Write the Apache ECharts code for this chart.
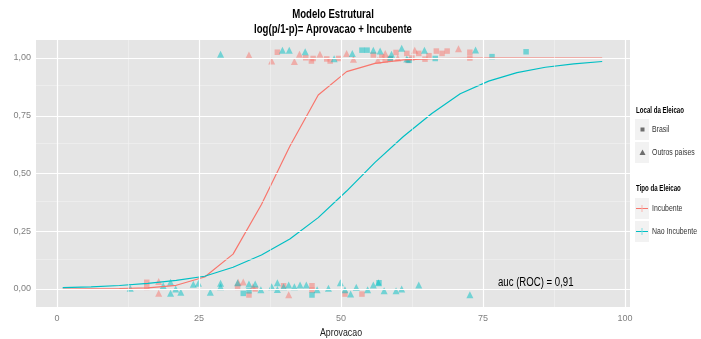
<!DOCTYPE html>
<html><head><meta charset="utf-8">
<script src="https://cdn.jsdelivr.net/npm/echarts@6/dist/echarts.min.js"></script>
<style>html,body{margin:0;padding:0;background:#fff}#c{width:701px;height:339px}</style>
</head><body><div id="c"></div>
<script>
// Predicted curves (evaluated at these approval values)
const curveX = [1,6,11,16,21,26,31,36,41,46,51,56,61,66,71,76,81,86,91,96];
const incubente = [0.000,0.001,0.002,0.005,0.016,0.052,0.151,0.366,0.618,0.840,0.941,0.977,0.992,0.997,0.999,1.000,1.000,1.000,1.000,1.000];
const naoIncubente = [0.006,0.009,0.015,0.024,0.037,0.055,0.094,0.147,0.216,0.309,0.424,0.548,0.660,0.760,0.845,0.900,0.937,0.960,0.975,0.985];

// Observed (jittered) points: [aprovacao, vitoria]
const brasilIncubente = [[38.8,1.025],[43.8,1.001],[44.8,0.987],[45.1,0.998],[47.5,0.996],[48.1,0.987],[49.6,0.998],[55.7,1.013],[57.2,1.005],[57.8,0.992],[58.7,0.998],[59.7,1.024],[61.6,1.02],[61.8,0.99],[62.5,1.0],[63.7,1.02],[64.8,0.995],[65.5,1.01],[66.8,1.03],[67.8,1.02],[68.7,1.03],[72.7,1.025],[72.7,1.0],
  [15.8,0.029],[15.8,0.007],[31.8,0.007],[33.8,-0.026],[34.9,0.0],[39.9,0.014],[44.9,0.014],[44.9,-0.005],[50.7,-0.022],[53.7,-0.022]];
const brasilNao = [[53.7,1.034],[54.6,1.034],[58.7,0.995],[66.6,0.998],[76.6,1.006],[82.6,1.027],[62.0,0.99],
  [32.8,-0.019],[33.8,-0.008],[44.9,-0.026],[56.7,0.027]];
const outrosIncubente = [[33.8,1.013],[37.8,0.987],[41.8,0.985],[42.7,1.016],[46.3,1.016],[51.0,1.02],[52.2,0.995],[57.8,1.02],[63.0,1.034],[70.7,1.04],[56.5,0.99],[60.0,1.0],
  [17.9,0.032],[17.9,-0.019],[31.9,0.029],[32.8,0.03],[40.8,-0.025],[34.5,0.01]];
const outrosNao = [[28.8,1.016],[39.7,1.034],[40.9,1.034],[43.7,1.027],[48.8,0.997],[55.7,1.034],[56.9,1.03],[58.9,1.016],[60.7,1.042],[61.6,0.996],[64.7,1.034],[73.7,1.035],[52.0,1.02],
  [12.9,0.003],[18.7,0.014],[20.0,0.029],[20.0,-0.019],[20.9,0.0],[21.8,-0.014],[24.0,0.021],[24.9,0.025],[27.0,-0.014],[28.8,0.025],[28.8,0.01],[31.8,0.027],[33.8,0.022],[34.9,0.022],[35.9,-0.003],[37.8,0.01],[38.8,0.027],[38.8,-0.002],[39.9,0.01],[40.8,0.017],[41.8,0.01],[42.8,0.017],[43.9,0.017],[45.8,-0.003],[47.8,0.003],[49.9,0.027],[50.7,-0.003],[51.7,-0.022],[52.7,0.007],[54.7,-0.003],[55.7,0.017],[56.6,0.027],[57.6,-0.008],[59.7,-0.008],[60.7,0.0],[63.7,0.017],[72.7,-0.025]];

const xMajor = [0,25,50,75,100];
const xMinor = [12.5,37.5,62.5,87.5];
const yMajor = [0,0.25,0.5,0.75,1];
const yMinor = [0.125,0.375,0.625,0.875];
const titleLines = ['Modelo Estrutural', 'log(p/1-p)= Aprovacao + Incubente'];
const xTitle = 'Aprovacao';
const yTitle = 'Probabilidade de Vitoria';
const aucText = 'auc (ROC) = 0,91';

const RED = '#F8766D', TEAL = '#00BFC4';
const SANS = "'Liberation Sans',Arial,sans-serif";
const SX = 0.8; // horizontally condensed text, as in the reference
const G = {left:36, top:40, width:594, height:267};

const chart = echarts.init(document.getElementById('c'), null, {renderer:'canvas'});

function pts(arr, sym, color, size){
  return {type:'scatter', data:arr, symbol:sym, symbolSize:size, z:3, silent:true,
    itemStyle:{color:color, opacity:0.5}};
}
function gridLines(vals, axis, width, color){
  return vals.map(v => ({[axis]: v, lineStyle:{color:color, width:width, type:'solid'}}));
}
function txt(x, y, text, font, fill, align, scale){
  return {type:'text', x:x, y:y, scaleX:scale || SX, silent:true,
    style:{text:text, font:font, fill:fill, textAlign:align || 'left', textVerticalAlign:'middle'}};
}

const option = {
  backgroundColor:'#fff',
  animation:false,
  grid:{left:G.left, top:G.top, width:G.width, height:G.height, show:true, backgroundColor:'#E5E5E5', borderWidth:0,
    outerBoundsMode:'none', containLabel:false},
  xAxis:{type:'value', min:-3.7, max:100.9,
    axisLine:{show:false}, splitLine:{show:false},
    axisTick:{show:true, length:3, customValues:xMajor, lineStyle:{color:'#7f7f7f'}},
    axisLabel:{customValues:xMajor, fontFamily:SANS, fontSize:9, color:'#7f7f7f', margin:7}
  },
  yAxis:{type:'value', min:-0.078, max:1.078,
    name:yTitle, nameLocation:'middle', nameGap:22, nameRotate:90,
    nameTextStyle:{fontFamily:SANS, fontSize:13, fontWeight:'bold', color:'#5a5a5a'},
    axisLine:{show:false}, splitLine:{show:false},
    axisTick:{show:true, length:3, customValues:yMajor, lineStyle:{color:'#7f7f7f'}},
    axisLabel:{customValues:yMajor, fontFamily:SANS, fontSize:9, color:'#7f7f7f', margin:5,
      formatter:v => v.toFixed(2).replace('.', ',')}
  },
  series:[
    {type:'line', data:[], z:1, silent:true,
      markLine:{silent:true, symbol:'none', label:{show:false}, animation:false,
        emphasis:{disabled:true},
        data:[].concat(
          gridLines(xMinor,'xAxis',0.6,'#F2F2F2'),
          gridLines(yMinor,'yAxis',0.6,'#F2F2F2'),
          gridLines(xMajor,'xAxis',1.2,'#FFFFFF'),
          gridLines(yMajor,'yAxis',1.2,'#FFFFFF'))
      }},
    pts(brasilIncubente,'rect',RED,5.5),
    pts(brasilNao,'rect',TEAL,5.5),
    pts(outrosIncubente,'triangle',RED,7),
    pts(outrosNao,'triangle',TEAL,7),
    {type:'line', data:curveX.map((x,i)=>[x,incubente[i]]), symbol:'none', z:4, silent:true,
      lineStyle:{color:RED, width:1.2}},
    {type:'line', data:curveX.map((x,i)=>[x,naoIncubente[i]]), symbol:'none', z:4, silent:true,
      lineStyle:{color:TEAL, width:1.2}}
  ],
  graphic:[
    txt(333, 15, titleLines[0], 'bold 12px '+SANS, '#000', 'center'),
    txt(333, 30, titleLines[1], 'bold 12px '+SANS, '#000', 'center'),
    txt(341, 333, xTitle, '11px '+SANS, '#222', 'center'),
    txt(498, 283, aucText, '12px '+SANS, '#000', 'left'),
    // Legend: Local da Eleicao
    txt(636, 111, 'Local da Eleicao', 'bold 9px '+SANS, '#000', 'left', 0.68),
    {type:'rect', shape:{x:635, y:119, width:14, height:21}, style:{fill:'#F2F2F2'}},
    {type:'rect', shape:{x:640.5, y:127.5, width:4, height:4}, style:{fill:'#6E6E6E'}},
    txt(652, 130, 'Brasil', '9px '+SANS, '#333', 'left', 0.77),
    {type:'rect', shape:{x:635, y:142, width:14, height:21}, style:{fill:'#F2F2F2'}},
    {type:'polygon', shape:{points:[[642.5,149.5],[645.5,155],[639.5,155]]}, style:{fill:'#6E6E6E'}},
    txt(652, 153, 'Outros paises', '9px '+SANS, '#333', 'left', 0.77),
    // Legend: Tipo da Eleicao
    txt(636, 189, 'Tipo da Eleicao', 'bold 9px '+SANS, '#000', 'left', 0.68),
    {type:'rect', shape:{x:635, y:198, width:14, height:21}, style:{fill:'#F2F2F2'}},
    {type:'line', shape:{x1:636, y1:208.5, x2:648, y2:208.5}, style:{stroke:RED, lineWidth:1}},
    {type:'line', shape:{x1:642, y1:205, x2:642, y2:212}, style:{stroke:'#F9B5AF', lineWidth:1}},
    txt(652, 209, 'Incubente', '9px '+SANS, '#333', 'left', 0.77),
    {type:'rect', shape:{x:635, y:221, width:14, height:21}, style:{fill:'#F2F2F2'}},
    {type:'line', shape:{x1:636, y1:231.5, x2:648, y2:231.5}, style:{stroke:TEAL, lineWidth:1}},
    {type:'line', shape:{x1:642, y1:228, x2:642, y2:235}, style:{stroke:'#80DFE1', lineWidth:1}},
    txt(652, 232, 'Nao Incubente', '9px '+SANS, '#333', 'left', 0.77)
  ]
};
chart.setOption(option);
</script>
</body></html>
